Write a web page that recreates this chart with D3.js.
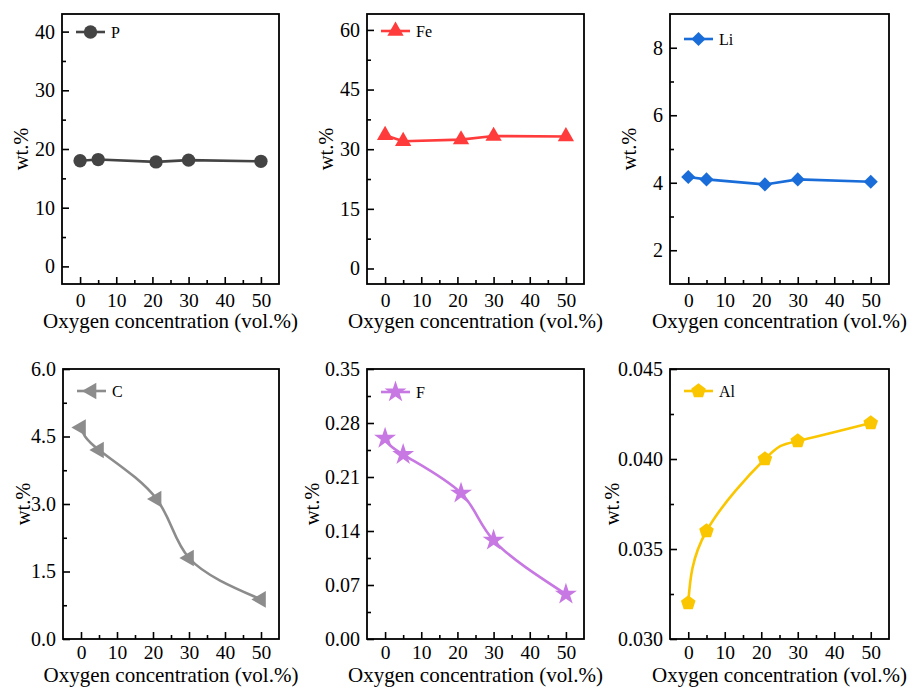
<!DOCTYPE html>
<html>
<head>
<meta charset="utf-8">
<script src="https://cdn.jsdelivr.net/npm/d3@7"></script>
<style>
  html, body { margin: 0; padding: 0; background: #fff; }
  svg { display: block; }
  text { font-family: "Liberation Serif", "Times New Roman", "DejaVu Serif", serif !important; fill: #000; }
</style>
</head>
<body>
<svg id="chart" width="914" height="688"></svg>
<script>
// ---- data ----
const oxygen = [0, 5, 21, 30, 50];
const xTicks = [0, 10, 20, 30, 40, 50];
const xMinorTicks = [5, 15, 25, 35, 45];

const elements = ["P", "Fe", "Li", "C", "F", "Al"];
const valuesP  = [18.0, 18.2, 17.8, 18.1, 17.9];
const valuesFe = [33.5, 32.0, 32.4, 33.3, 33.2];
const valuesLi = [4.17, 4.10, 3.95, 4.10, 4.03];
const valuesC  = [4.70, 4.20, 3.11, 1.80, 0.88];
const valuesF  = [0.260, 0.239, 0.189, 0.128, 0.058];
const valuesAl = [0.0320, 0.0360, 0.0400, 0.0410, 0.0420];

const yTicksP  = [0, 10, 20, 30, 40];
const yTicksFe = [0, 15, 30, 45, 60];
const yTicksLi = [2, 4, 6, 8];
const yTicksC  = [0, 1.5, 3.0, 4.5, 6.0];
const yTicksF  = [0, 0.07, 0.14, 0.21, 0.28, 0.35];
const yTicksAl = [0.030, 0.035, 0.040, 0.045];

const xAxisTitle = "Oxygen concentration (vol.%)";
const yAxisTitle = "wt.%";

// ---- layout / style ----
const svg = d3.select("#chart");

function pentagon() {
  return {
    draw(ctx, size) {
      const r = Math.sqrt(size / 2.378);
      for (let i = 0; i < 5; i++) {
        const a = -Math.PI / 2 + i * 2 * Math.PI / 5;
        const x = r * Math.cos(a), y = r * Math.sin(a);
        if (i === 0) ctx.moveTo(x, y); else ctx.lineTo(x, y);
      }
      ctx.closePath();
    }
  };
}

const panels = [
  { name: elements[0], vals: valuesP,  ticks: yTicksP,  fmt: d3.format("d"),   dom: [-3, 43],  color: "#444444",
    sym: d3.symbolCircle, size: 140, rot: 0, left: 62, top: 14, w: 217, h: 270, curve: d3.curveLinear, legDy: 18, ylx: -41, tdy: 44, tp: 9 },
  { name: elements[1], vals: valuesFe, ticks: yTicksFe, fmt: d3.format("d"),   dom: [-3.9, 64], color: "#ff3b3b",
    sym: d3.symbolTriangle, size: 115, rot: 0, left: 367, top: 14, w: 217, h: 270, curve: d3.curveLinear, legDy: 17, ylx: -41, tdy: 44, tp: 9 },
  { name: elements[2], vals: valuesLi, ticks: yTicksLi, fmt: d3.format("d"),   dom: [1, 9],    color: "#1a6dd8",
    sym: d3.symbolSquare, size: 100, rot: 45, left: 670, top: 14, w: 219, h: 270, curve: d3.curveLinear, legDy: 25, ylx: -41, tdy: 44, tp: 9 },
  { name: elements[3], vals: valuesC,  ticks: yTicksC,  fmt: d3.format(".1f"), dom: [0, 6],    color: "#8c8c8c",
    sym: d3.symbolTriangle, size: 120, rot: -90, left: 63, top: 369, w: 216, h: 270, curve: d3.curveNatural, legDy: 22, ylx: -40, tdy: 42.5, tp: 6 },
  { name: elements[4], vals: valuesF,  ticks: yTicksF,  fmt: d3.format(".2f"), dom: [0, 0.35], color: "#c778e2",
    sym: d3.symbolStar, size: 150, rot: 0, left: 367, top: 369, w: 217, h: 270, curve: d3.curveNatural, legDy: 23, ylx: -55, tdy: 42.5, tp: 6 },
  { name: elements[5], vals: valuesAl, ticks: yTicksAl, fmt: d3.format(".3f"), dom: [0.030, 0.045], color: "#fac600",
    sym: pentagon(), size: 140, rot: 0, left: 670, top: 369, w: 219, h: 270, curve: d3.curveNatural, legDy: 22, ylx: -58, tdy: 42.5, tp: 6 }
];

panels.forEach(p => {
  const g = svg.append("g").attr("transform", `translate(${p.left},${p.top})`);
  const x = d3.scaleLinear().domain([-5, 55]).range([0, p.w]);
  const y = d3.scaleLinear().domain(p.dom).range([p.h, 0]);

  // minor y ticks
  const minorY = [];
  for (let i = 0; i < p.ticks.length - 1; i++) minorY.push((p.ticks[i] + p.ticks[i + 1]) / 2);
  if (p.name === "P") minorY.push(45);

  // x axis (ticks inward)
  const xAxis = g.append("g").attr("transform", `translate(0,${p.h})`)
    .call(d3.axisBottom(x).tickValues(xTicks).tickSize(-7).tickPadding(p.tp).tickFormat(d3.format("d")));
  xAxis.select(".domain").remove();
  xAxis.selectAll("line").attr("stroke", "#000").attr("stroke-width", 1.6);
  xAxis.selectAll("text").attr("font-size", 19.5);
  const xMinor = g.append("g").attr("transform", `translate(0,${p.h})`)
    .call(d3.axisBottom(x).tickValues(xMinorTicks).tickSize(-4).tickFormat(""));
  xMinor.select(".domain").remove();
  xMinor.selectAll("line").attr("stroke", "#000").attr("stroke-width", 1.6);

  // y axis
  const yAxis = g.append("g")
    .call(d3.axisLeft(y).tickValues(p.ticks).tickSize(-7).tickPadding(7).tickFormat(p.fmt));
  yAxis.select(".domain").remove();
  yAxis.selectAll("line").attr("stroke", "#000").attr("stroke-width", 1.6);
  yAxis.selectAll("text").attr("font-size", 20);
  const yMinor = g.append("g")
    .call(d3.axisLeft(y).tickValues(minorY.filter(v => v > p.dom[0] && v < p.dom[1])).tickSize(-4).tickFormat(""));
  yMinor.select(".domain").remove();
  yMinor.selectAll("line").attr("stroke", "#000").attr("stroke-width", 1.6);

  // frame
  g.append("rect").attr("x", 0).attr("y", 0).attr("width", p.w).attr("height", p.h)
    .attr("fill", "none").attr("stroke", "#000").attr("stroke-width", 1.8);

  // data line
  const data = oxygen.map((o, i) => [o, p.vals[i]]);
  g.append("path").datum(data)
    .attr("d", d3.line().x(d => x(d[0])).y(d => y(d[1])).curve(p.curve))
    .attr("fill", "none").attr("stroke", p.color).attr("stroke-width", 2.6);

  const sym = d3.symbol().type(p.sym).size(p.size);
  g.selectAll("path.mk").data(data).enter().append("path").attr("class", "mk")
    .attr("d", sym)
    .attr("transform", d => `translate(${x(d[0])},${y(d[1])}) rotate(${p.rot})`)
    .attr("fill", p.color);

  // legend
  const lg = g.append("g").attr("transform", `translate(14,${p.legDy})`);
  lg.append("line").attr("x1", 0).attr("x2", 29).attr("y1", 0).attr("y2", 0)
    .attr("stroke", p.color).attr("stroke-width", 2.6);
  lg.append("path").attr("d", sym).attr("transform", `translate(14.5,0) rotate(${p.rot})`).attr("fill", p.color);
  lg.append("text").attr("x", 35).attr("y", 5.5).attr("font-size", 16).text(p.name);

  // axis titles
  g.append("text").attr("x", p.w / 2).attr("y", p.h + p.tdy).attr("text-anchor", "middle")
    .attr("font-size", 21).text(xAxisTitle);
  g.append("text").attr("transform", `translate(${p.ylx},${p.h / 2}) rotate(-90)`)
    .attr("text-anchor", "middle").attr("dy", "0.35em").attr("font-size", 20.5).text(yAxisTitle);
});
</script>
</body>
</html>
